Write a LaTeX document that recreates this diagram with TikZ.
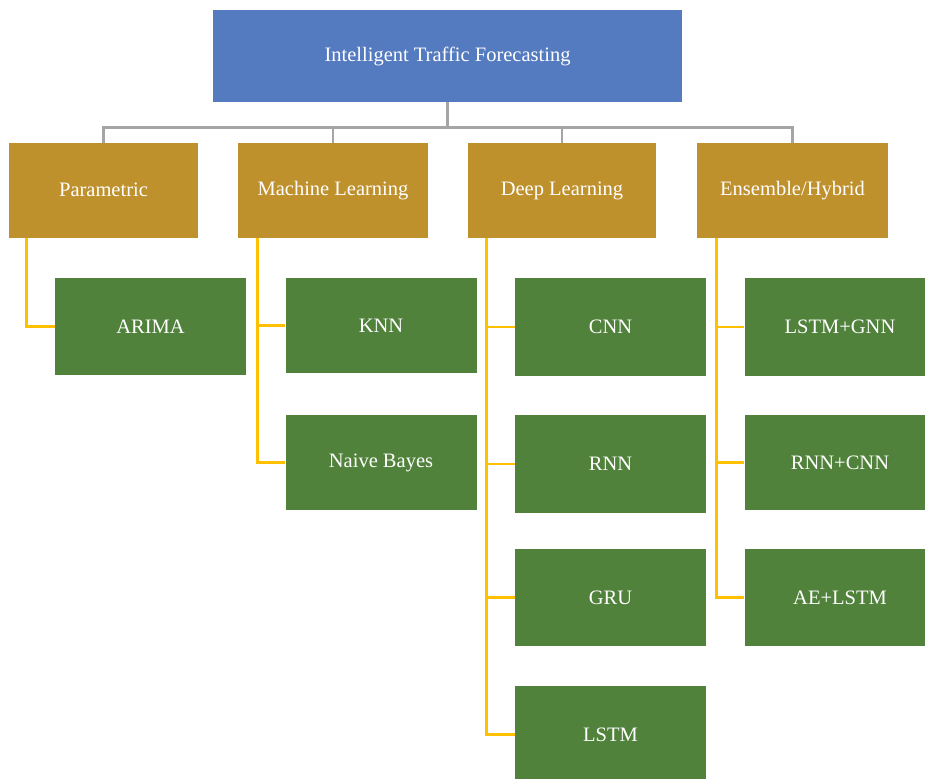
\documentclass[tikz,border=0pt]{standalone}
\usepackage{fontspec}
\setmainfont{Liberation Serif}
\definecolor{topblue}{HTML}{547AC0}
\definecolor{catgold}{HTML}{BF912D}
\definecolor{leafgreen}{HTML}{51823B}
\definecolor{busgray}{HTML}{A5A5A5}
\definecolor{linkyellow}{HTML}{FFC000}
\tikzset{
  box/.style={draw=none, inner sep=0pt, text=white, font=\fontsize{20.5}{22}\selectfont},
  topbox/.style={box, fill=topblue, minimum width=469pt, minimum height=92pt},
  catbox/.style={box, fill=catgold, minimum height=95pt},
  leafbox/.style={box, fill=leafgreen, minimum width=191pt},
  bus/.style={draw=busgray, line width=2.8pt},
  link/.style={draw=linkyellow, line width=2.8pt}
}
\begin{document}
\begin{tikzpicture}[x=1pt,y=1pt]
\path[use as bounding box, clip] (0,0) rectangle (925,-778);
\node[topbox] (top) at (447.5,-56) {\raisebox{2pt}{Intelligent Traffic Forecasting}};

\node[catbox, minimum width=189pt] (par) at (103.5,-190.5) {\raisebox{1pt}{Parametric}};
\node[catbox, minimum width=190pt] (ml) at (333,-190.5) {\raisebox{1pt}{Machine Learning}};
\node[catbox, minimum width=188pt] (dl) at (562,-190.5) {\raisebox{1pt}{Deep Learning}};
\node[catbox, minimum width=191pt] (ens) at (792.5,-190.5) {\raisebox{1pt}{Ensemble/Hybrid}};

\node[leafbox, minimum height=97pt] (arima) at (150.5,-326.5) {ARIMA};
\node[leafbox, minimum height=95pt] (knn) at (381,-325.5) {KNN};
\node[leafbox, minimum height=95pt] (nb) at (381,-462.5) {Naive Bayes};
\node[leafbox, minimum height=98pt] (cnn) at (610.5,-327) {CNN};
\node[leafbox, minimum height=98pt] (rnn) at (610.5,-464) {RNN};
\node[leafbox, minimum height=97pt] (gru) at (610.5,-597.5) {GRU};
\node[leafbox, minimum height=97pt] (lstm) at (610.5,-734.5) {LSTM};
\node[leafbox, minimum height=98pt] (lg) at (840,-327) {LSTM+GNN};
\node[leafbox, minimum height=95pt] (rc) at (840,-462.5) {RNN+CNN};
\node[leafbox, minimum height=97pt] (al) at (840,-597.5) {AE+LSTM};

\foreach \c in {par,ml,dl,ens}
  \draw[bus] (top.south) -- ++(0,-25) -| (\c.north);

\draw[link] ([xshift=18pt]par.south west) |- (arima.west);
\draw[link] ([xshift=20pt]ml.south west) |- (knn.west);
\draw[link] ([xshift=20pt]ml.south west) |- (nb.west);
\foreach \c in {cnn,rnn,gru,lstm}
  \draw[link] ([xshift=19pt]dl.south west) |- (\c.west);
\foreach \c in {lg,rc,al}
  \draw[link] ([xshift=20pt]ens.south west) |- (\c.west);
\end{tikzpicture}
\end{document}
